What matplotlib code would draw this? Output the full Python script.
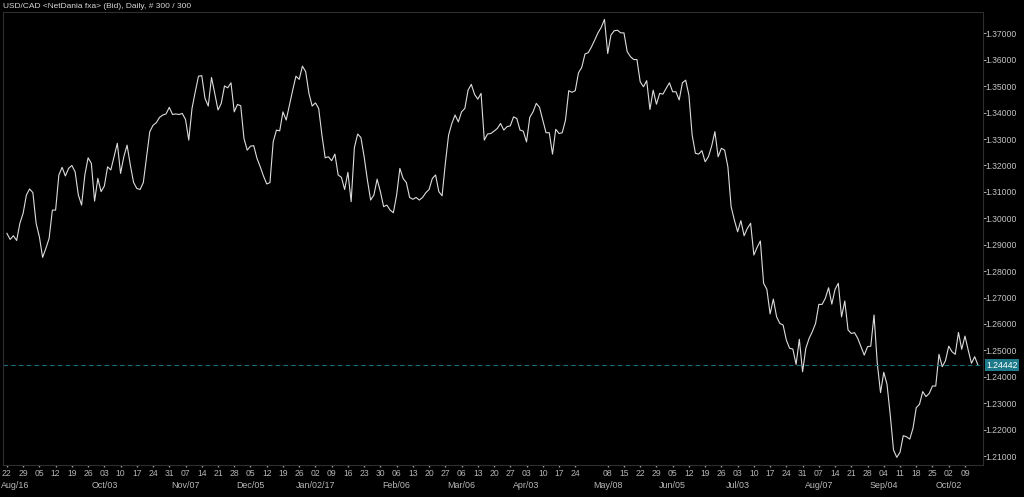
import numpy as np
import pandas as pd
import matplotlib
matplotlib.use('Agg')
import matplotlib.pyplot as plt

# USD/CAD daily bid, 300 bars (Aug 22 2016 .. Oct 13 2017)
close_aug_dec16 = [
    1.2943, 1.2920, 1.2934, 1.2916, 1.2981, 1.3019, 1.3088, 1.3111, 1.3097, 1.2981,
    1.2930, 1.2852, 1.2886, 1.2924, 1.3031, 1.3031, 1.3164, 1.3193, 1.3160, 1.3189,
    1.3200, 1.3176, 1.3088, 1.3050, 1.3164, 1.3229, 1.3208, 1.3065, 1.3151, 1.3101,
    1.3122, 1.3195, 1.3183, 1.3233, 1.3284, 1.3170, 1.3233, 1.3277, 1.3202, 1.3136,
    1.3113, 1.3109, 1.3135, 1.3233, 1.3328, 1.3352, 1.3362, 1.3382, 1.3391, 1.3395,
    1.3420, 1.3393, 1.3395, 1.3393, 1.3397, 1.3374, 1.3296, 1.3416, 1.3479, 1.3538,
    1.3540, 1.3454, 1.3425, 1.3533, 1.3473, 1.3410, 1.3435, 1.3501, 1.3494, 1.3513,
    1.3403, 1.3431, 1.3426, 1.3302, 1.3258]
close_dec16_mar17 = [
    1.3273, 1.3275, 1.3227, 1.3195, 1.3160, 1.3130, 1.3135, 1.3290, 1.3334, 1.3331,
    1.3403, 1.3372, 1.3429, 1.3485, 1.3538, 1.3526, 1.3576, 1.3555, 1.3473, 1.3425,
    1.3437, 1.3416, 1.3315, 1.3229, 1.3233, 1.3218, 1.3243, 1.3164, 1.3155, 1.3109,
    1.3174, 1.3063, 1.3268, 1.3319, 1.3306, 1.3233, 1.3145, 1.3069, 1.3088, 1.3148,
    1.3101, 1.3044, 1.3050, 1.3031, 1.3021, 1.3088, 1.3189, 1.3151, 1.3135, 1.3079,
    1.3072, 1.3079, 1.3069, 1.3079, 1.3097, 1.3109, 1.3151, 1.3164, 1.3101, 1.3085,
    1.3208, 1.3315, 1.3359, 1.3391, 1.3365, 1.3403, 1.3416, 1.3485, 1.3507, 1.3469,
    1.3451, 1.3473, 1.3296, 1.3319, 1.3321, 1.3330]
close_mar_jul17 = [
    1.3340, 1.3359, 1.3334, 1.3347, 1.3350, 1.3384, 1.3378, 1.3334, 1.3330, 1.3289,
    1.3382, 1.3403, 1.3435, 1.3420, 1.3372, 1.3324, 1.3324, 1.3243, 1.3337, 1.3321,
    1.3324, 1.3372, 1.3483, 1.3477, 1.3483, 1.3551, 1.3571, 1.3622, 1.3627, 1.3649,
    1.3675, 1.3702, 1.3723, 1.3753, 1.3624, 1.3694, 1.3710, 1.3712, 1.3702, 1.3702,
    1.3631, 1.3612, 1.3601, 1.3601, 1.3517, 1.3498, 1.3521, 1.3412, 1.3485, 1.3432,
    1.3473, 1.3470, 1.3492, 1.3513, 1.3479, 1.3479, 1.3448, 1.3513, 1.3523, 1.3466,
    1.3315, 1.3246, 1.3243, 1.3256, 1.3214, 1.3233, 1.3273, 1.3328, 1.3233, 1.3265,
    1.3258, 1.3195, 1.3044, 1.2993, 1.2949, 1.2991]
close_jul_oct17 = [
    1.2934, 1.2962, 1.2981, 1.2861, 1.2890, 1.2914, 1.2754, 1.2731, 1.2638, 1.2694,
    1.2627, 1.2602, 1.2596, 1.2539, 1.2508, 1.2505, 1.2447, 1.2542, 1.2419, 1.2508,
    1.2545, 1.2571, 1.2602, 1.2674, 1.2674, 1.2697, 1.2737, 1.2675, 1.2731, 1.2754,
    1.2627, 1.2687, 1.2577, 1.2564, 1.2567, 1.2545, 1.2514, 1.2482, 1.2514, 1.2516,
    1.2634, 1.2451, 1.2340, 1.2417, 1.2371, 1.2255, 1.2123, 1.2095, 1.2114, 1.2177,
    1.2173, 1.2164, 1.2205, 1.2283, 1.2296, 1.2344, 1.2325, 1.2337, 1.2365, 1.2365,
    1.2485, 1.2438, 1.2461, 1.2516, 1.2495, 1.2485, 1.2568, 1.2504, 1.2554, 1.2501,
    1.2451, 1.2476, 1.24442]

month_dates = ['2016-08-22', '2016-10-03', '2016-11-07', '2016-12-05', '2017-01-02',
               '2017-02-06', '2017-03-06', '2017-04-03', '2017-05-08', '2017-06-05',
               '2017-07-03', '2017-08-07', '2017-09-04', '2017-10-02']
month_labels = ['Aug/16', 'Oct/03', 'Nov/07', 'Dec/05', 'Jan/02/17', 'Feb/06', 'Mar/06',
                'Apr/03', 'May/08', 'Jun/05', 'Jul/03', 'Aug/07', 'Sep/04', 'Oct/02']
skipped_mondays = ['2017-05-01']  # no label drawn there on the original

close = np.array(close_aug_dec16 + close_dec16_mar17 + close_mar_jul17 + close_jul_oct17)
dates = pd.bdate_range(end='2017-10-13', periods=len(close))
idx = np.arange(len(close))
last = close[-1]

plt.rcParams['font.family'] = ['Liberation Sans', 'DejaVu Sans']
fs = 6.2
bg = '#000000'

fig = plt.figure(figsize=(10.24, 4.97), dpi=100, facecolor=bg)
ax = fig.add_axes([3/1024, 1 - 465/497, 979.5/1024, 453/497], facecolor=bg)

ax.plot(idx, close, color='#dcdcdc', lw=0.8)
ax.axhline(last, color='#1b6f7d', lw=0.8, ls=(0, (4, 3)))

ax.set_xlim(-1.2, len(close) + 0.4)
ax.set_ylim(1.2066, 1.3781)

for s in ax.spines.values():
    s.set_color('#2e2e2e')
    s.set_linewidth(0.8)

# right price scale
ax.yaxis.tick_right()
ax.set_yticks(np.arange(1.21, 1.3701, 0.01))
ax.set_yticklabels([f'{v:.5f}' for v in np.arange(1.21, 1.3701, 0.01)])
ax.tick_params(axis='y', length=1.8, width=0.7, color='#b0b0b0', pad=0.6,
               labelsize=fs, labelcolor='#c4c4c4')

# weekly ticks on mondays
is_mon = (dates.weekday == 0) & ~dates.isin(pd.to_datetime(skipped_mondays))
ax.set_xticks(idx[is_mon])
ax.set_xticklabels(dates[is_mon].strftime('%d'))
ax.tick_params(axis='x', length=1.5, width=1, color='#9a9a9a', pad=1.2,
               labelsize=fs, labelcolor='#b4b4b4')

# month labels under the day numbers
for d, lab in zip(month_dates, month_labels):
    i = dates.get_loc(pd.Timestamp(d))
    ha = 'left' if i == 0 else 'center'
    dx = -4 if i == 0 else 0
    ax.annotate(lab, xy=(i, 0), xycoords=('data', 'axes fraction'),
                xytext=(dx, -15), textcoords='offset points', ha=ha, va='center',
                fontsize=fs + 0.2, color='#b8b8b8', annotation_clip=False)

# last price tag
ax.annotate(f'{last:.5f}', xy=(1, last), xycoords=('axes fraction', 'data'),
            xytext=(2.6, 0), textcoords='offset points', ha='left', va='center',
            fontsize=fs, color='#ffffff', annotation_clip=False,
            bbox=dict(boxstyle='square,pad=0.18', fc='#1d7a8a', ec='none'))

fig.text(3/1024, 1 - 6/497, 'USD/CAD <NetDania fxa> (Bid), Daily, # 300 / 300',
         ha='left', va='center', fontsize=6.0, color='#d6d6d6')

fig.savefig('out.png', dpi=100, facecolor=bg)
